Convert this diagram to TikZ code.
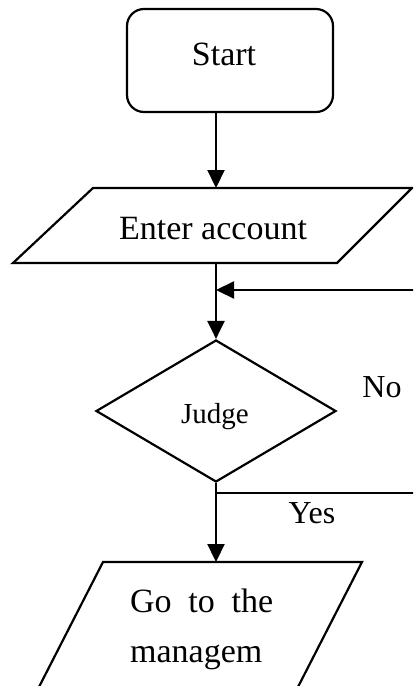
\documentclass[tikz,border=0pt]{standalone}
\usepackage{fontspec}
\setmainfont{Liberation Serif}
\usetikzlibrary{shapes.geometric,arrows.meta}
\begin{document}
\begin{tikzpicture}[x=1pt,y=1pt,
  line/.style={line width=2.2pt, line join=miter},
  flow/.style={line, -{Triangle[length=18pt,width=17pt]}},
  box/.style={draw, line width=2.2pt, inner sep=0pt},
  txt/.style={anchor=base, inner sep=0pt, font=\fontsize{34}{40}\selectfont},
  smalltxt/.style={anchor=base, inner sep=0pt, font=\fontsize{29}{34}\selectfont},
  tagtxt/.style={anchor=base, inner sep=0pt, font=\fontsize{32}{38}\selectfont}]
\useasboundingbox (0,0) rectangle (413,-686);
\clip (0,0) rectangle (413,-686);

% start terminal
\node[box, rounded corners=17pt, minimum width=206pt, minimum height=103pt] (start) at (230,-60.5) {};
\node[txt] (starttxt) at (224,-65) {Start};

% input: enter account
\coordinate (inTL) at (93,-188);
\coordinate (inTR) at (412,-188);
\coordinate (inBR) at (337,-263);
\coordinate (inBL) at (13,-263);
\draw[line] (inTL) -- (inTR) -- (inBR) -- (inBL) -- cycle;
\node[txt] (entertxt) at (213,-239) {Enter account};

% decision
\node[box, diamond, minimum width=240pt, minimum height=142pt] (judge) at (216,-411) {};
\node[smalltxt] (judgetxt) at (215,-423) {Judge};
\node[tagtxt] (notxt) at (382,-397) {No};
\node[tagtxt] (yestxt) at (312,-523) {Yes};

% output: go to the management page
\coordinate (outTL) at (103,-562);
\coordinate (outTR) at (362,-562);
\coordinate (outBR) at (291.3,-700);
\coordinate (outBL) at (32.3,-700);
\draw[line] (outTL) -- (outTR) -- (outBR) -- (outBL) -- cycle;
\node[txt, anchor=base west] (gotxt) at (130,-612) {\makebox[143pt][s]{Go to the}};
\node[txt, anchor=base west] (mgtxt) at (130,-662) {managem};

% connectors
\coordinate (noEnd) at (420,-290);
\coordinate (yesEnd) at (420,-493);
\draw[flow] (start.south -| judge.north) -- (judge.north |- inTL);
\draw[flow] (judge.north |- inBL) -- (judge.north);
\draw[flow] (noEnd) -- (noEnd -| judge.north);
\draw[line] (judge.south |- yesEnd) -- (yesEnd);
\draw[flow] (judge.south) -- (judge.south |- outTL);
\end{tikzpicture}
\end{document}
